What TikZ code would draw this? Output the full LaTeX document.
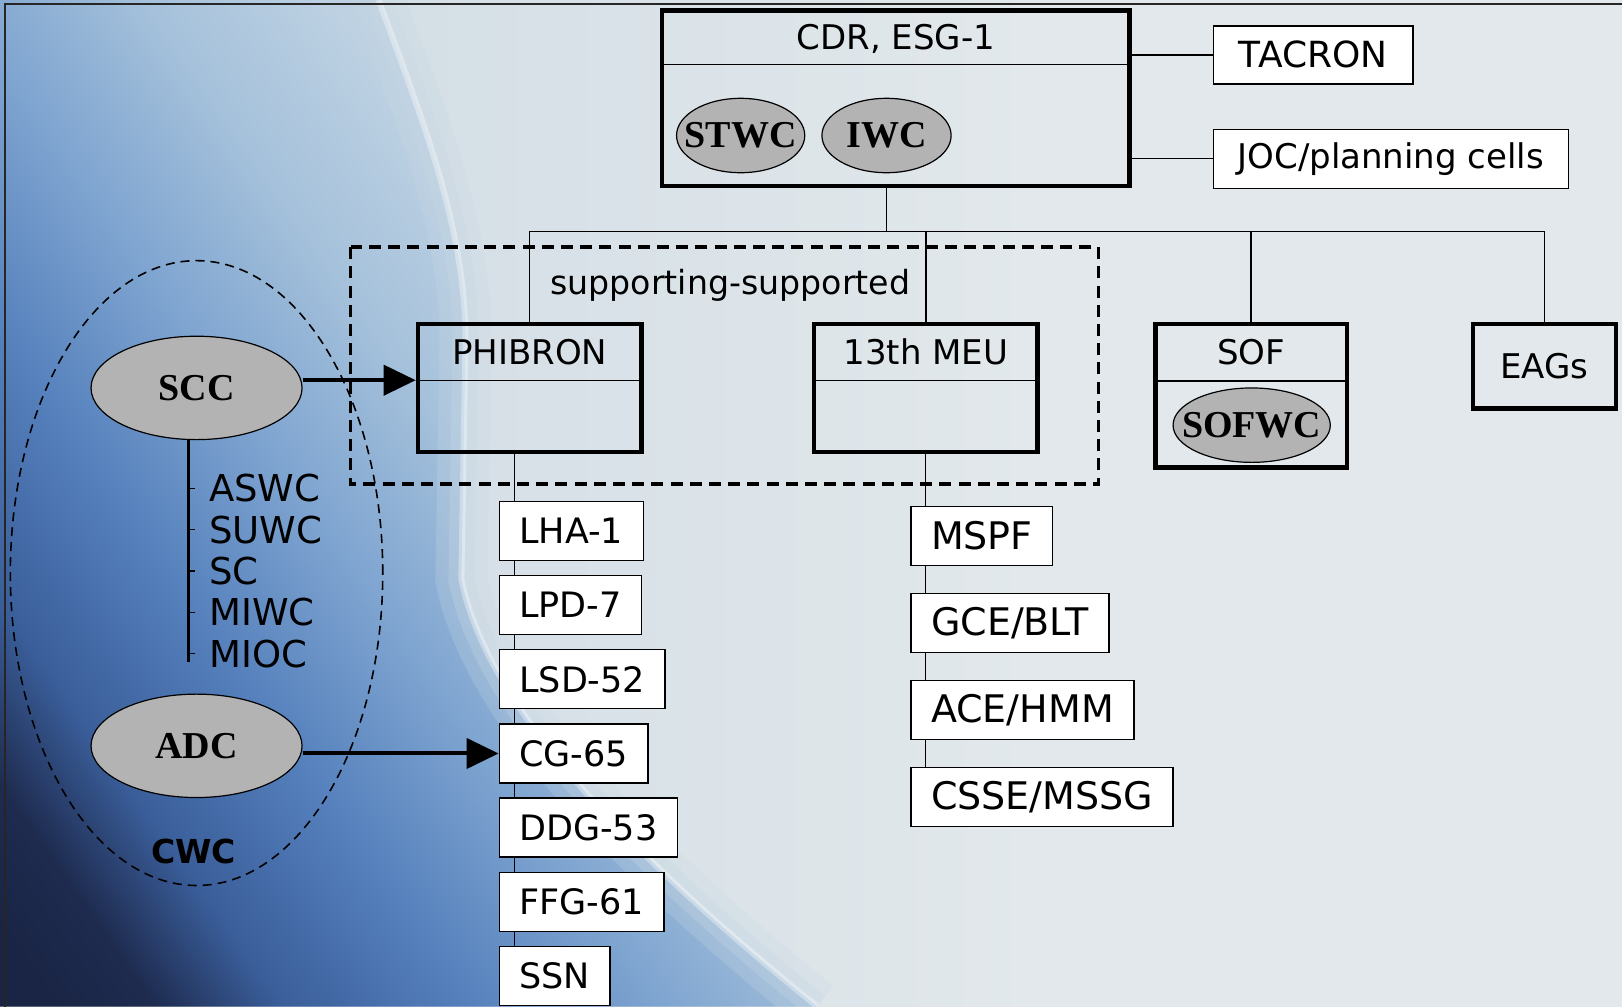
\documentclass[tikz,border=0pt]{standalone}
\usepackage{fontspec}
\setmainfont{DejaVu Sans}
\newfontfamily\wcserif{Liberation Serif}
\usepackage{tikz}
\usetikzlibrary{positioning,arrows.meta,shapes.geometric}

\definecolor{bgA}{HTML}{1A2545}
\definecolor{bgAA}{HTML}{1E2B4F}
\definecolor{bgB}{HTML}{3A5E9A}
\definecolor{bgC}{HTML}{5580BC}
\definecolor{bgD}{HTML}{7EA4D0}
\definecolor{bgE}{HTML}{A5C1DB}
\definecolor{bgG}{HTML}{BDD1E2}
\definecolor{bgH}{HTML}{C8D8E4}
\definecolor{bgL}{HTML}{CCD9E3}
\definecolor{bgF}{HTML}{E2E8EB}
\definecolor{wcgray}{HTML}{B3B3B3}

\newcommand\hdfont{\fontsize{17pt}{19pt}\selectfont}
\newcommand\shipfont{\fontsize{17.5pt}{20pt}\selectfont}
\newcommand\meufont{\fontsize{19pt}{21pt}\selectfont}
\newcommand\cwfont{\fontsize{18.5pt}{20pt}\selectfont}
\newcommand\wcfont{\wcserif\bfseries\fontsize{19pt}{21pt}\selectfont}
\newcommand\cwcfont{\bfseries\fontsize{16.5pt}{19pt}\selectfont}
\newcommand\zw[1]{\makebox[0pt]{#1}}

\pgfdeclarehorizontalshading{seabg}{100bp}{color(0bp)=(bgA); color(25.6bp)=(bgA); color(27.8bp)=(bgAA); color(30.6bp)=(bgB); color(34.7bp)=(bgC); color(38.9bp)=(bgD); color(43.1bp)=(bgE); color(47.2bp)=(bgG); color(52.8bp)=(bgH); color(100bp)=(bgH)}

\begin{document}
\begin{tikzpicture}[x=0.5172pt,y=-0.5172pt,
  hb/.style={draw,line width=2.2pt,inner sep=0pt},
  ht/.style={anchor=north,inner sep=0pt,yshift=-1pt,text height=12.4pt,text depth=0pt,font=\hdfont},
  wb/.style={draw,line width=0.7pt,fill=white,inner sep=0pt,font=\hdfont},
  ship/.style={draw,line width=0.7pt,fill=white,inner xsep=10pt,inner ysep=0pt,minimum height=29.5pt,font=\shipfont},
  wc/.style={ellipse,draw,line width=0.6pt,fill=wcgray,inner sep=0pt,font=\wcfont},
  cw/.style={inner sep=3pt,font=\cwfont},
  ln/.style={line width=0.7pt},
  dashbox/.style={line width=1.8pt,dash pattern=on 6pt off 3.6pt},
  arr/.style={line width=2pt,-{Triangle[length=16pt,width=15pt]}}]

% background
\useasboundingbox (0,0) rectangle (1568,973);
\fill[bgF] (0,0) rectangle (1568,973);
\shade[left color=bgL,right color=bgF] (0,0) rectangle (1000,973);
\begin{scope}
\clip (0,0) -- (366,0) .. controls (410,120) and (450,220) .. (450,330) -- (446,560)
  .. controls (470,680) and (600,820) .. (790,973) -- (0,973) -- cycle;
\shade[shading=seabg,shading angle=35] (-116,-413.5) rectangle (1684,1386.5);
\end{scope}
\draw[bgH,opacity=0.25,line width=26pt] (366,0) .. controls (410,120) and (450,220) .. (450,330) -- (446,560)
  .. controls (470,680) and (600,820) .. (790,973);
\draw[bgH,opacity=0.3,line width=13pt] (366,0) .. controls (410,120) and (450,220) .. (450,330) -- (446,560)
  .. controls (470,680) and (600,820) .. (790,973);
\draw[white,opacity=0.35,line width=3pt] (366,0) .. controls (410,120) and (450,220) .. (450,330) -- (446,560)
  .. controls (470,680) and (600,820) .. (790,973);
\draw[line width=1.2pt,black!85] (1568,4) -| (5,973);

% top: commander and staff
\node[hb,minimum width=233.8pt,minimum height=87.9pt] (cdr) at (866,95) {};
\node[ht,minimum height=26.9pt] (cdrt) at (cdr.north) {CDR, ESG-1};
\draw[ln] (cdr.west |- cdrt.south) -- (cdr.east |- cdrt.south);
\node[wc,minimum width=64.1pt,minimum height=37.2pt] (stwc) at (716,131) {\zw{STWC}};
\node[wc,minimum width=64.6pt,minimum height=37.2pt] (iwc) at (857,131) {\zw{IWC}};
\node[wb,font=\fontsize{18pt}{20pt}\selectfont,minimum width=99.8pt,minimum height=29pt] (tacron) at (1269.5,53) {TACRON};
\node[wb,minimum width=177.4pt,minimum height=29.5pt] (joc) at (1344.5,153.5) {JOC/planning cells};
\draw[ln] (cdr.east |- tacron.west) -- (tacron.west);
\draw[ln] (cdr.east |- joc.west) -- (joc.west);

% subordinate commands
\node[hb,minimum width=111.7pt,minimum height=64.1pt] (phib) at (512,375) {};
\node[ht,minimum height=27.9pt] (phibt) at (phib.north) {PHIBRON};
\draw[ln] (phib.west |- phibt.south) -- (phib.east |- phibt.south);
\node[hb,minimum width=111.7pt,minimum height=64.1pt] (meu) at (895,375) {};
\node[ht,minimum height=27.9pt] (meut) at (meu.north) {13th MEU};
\draw[ln] (meu.west |- meut.south) -- (meu.east |- meut.south);
\node[hb,minimum width=95.7pt,minimum height=71.9pt] (sof) at (1209.5,382.5) {};
\node[ht,minimum height=28.4pt] (soft) at (sof.north) {SOF};
\draw[ln] (sof.west |- soft.south) -- (sof.east |- soft.south);
\node[wc,minimum width=78.6pt,minimum height=37.2pt] (sofwc) at (1210,411) {\zw{SOFWC}};
\node[hb,font=\hdfont,minimum width=71.4pt,minimum height=42.4pt] (eags) at (1493,354) {EAGs};

\coordinate (bus) at (857,224);
\draw[ln] (cdr.south -| bus) -- (bus);
\draw[ln] (phib.north) |- (bus) -| (eags.north);
\draw[ln] (meu.north) -- (meu.north |- bus);
\draw[ln] (sof.north) -- (sof.north |- bus);

\draw[dashbox] (339,239) rectangle (1062,468);
\node[font=\fontsize{16.6pt}{19pt}\selectfont] (supp) at (706,276) {supporting-supported};

% ships
\node[ship,anchor=north west] (lha) at (482,484) {LHA-1};
\node[ship,below=6.9pt of lha.south west,anchor=north west] (lpd) {LPD-7};
\node[ship,below=6.9pt of lpd.south west,anchor=north west] (lsd) {LSD-52};
\node[ship,below=6.9pt of lsd.south west,anchor=north west] (cg) {CG-65};
\node[ship,below=6.9pt of cg.south west,anchor=north west] (ddg) {DDG-53};
\node[ship,below=6.9pt of ddg.south west,anchor=north west] (ffg) {FFG-61};
\node[ship,below=6.9pt of ffg.south west,anchor=north west] (ssn) {SSN};
\foreach \a/\b in {phib/lha,lha/lpd,lpd/lsd,lsd/cg,cg/ddg,ddg/ffg,ffg/ssn}
  \draw[ln] ([xshift=7.8pt]\b.north west) -- ([xshift=7.8pt]\b.north west |- \a.south);

% MEU elements
\node[ship,font=\meufont,anchor=north west] (mspf) at (880,489) {MSPF};
\node[ship,font=\meufont,below=13.3pt of mspf.south west,anchor=north west] (gce) {GCE/BLT};
\node[ship,font=\meufont,below=13.3pt of gce.south west,anchor=north west] (ace) {ACE/HMM};
\node[ship,font=\meufont,below=13.3pt of ace.south west,anchor=north west] (csse) {CSSE/MSSG};
\foreach \a/\b in {meu/mspf,mspf/gce,gce/ace,ace/csse}
  \draw[ln] ([xshift=7.5pt]\b.north west) -- ([xshift=7.5pt]\b.north west |- \a.south);

% composite warfare commander
\draw[line width=0.8pt,dash pattern=on 4.5pt off 3pt] (190,554) ellipse [x radius=93.1pt,y radius=156.2pt];
\node[wc,minimum width=105.5pt,minimum height=51.7pt] (scc) at (190,375) {\zw{SCC}};
\node[wc,minimum width=105.5pt,minimum height=51.7pt] (adc) at (190,721) {\zw{ADC}};
\node[font=\cwcfont] (cwc) at (187,823) {CWC};
\coordinate (cwtop) at ([xshift=-4pt]scc.south);
\foreach \t [count=\i] in {ASWC,SUWC,SC,MIWC,MIOC}
  \node[cw,anchor=west] (w\i) at (196,432+40*\i) {\t};
\draw[line width=1.6pt] (cwtop) -- ([yshift=-4pt]cwtop |- w5.west);
\foreach \i in {1,...,5}
  \draw[ln] (cwtop |- w\i.west) -- ++(3pt,0);

\draw[arr] (scc.east |- phibt.south) -- (phib.west |- phibt.south);
\draw[arr] (cg.west -| adc.east) -- (cg.west);
\end{tikzpicture}
\end{document}
